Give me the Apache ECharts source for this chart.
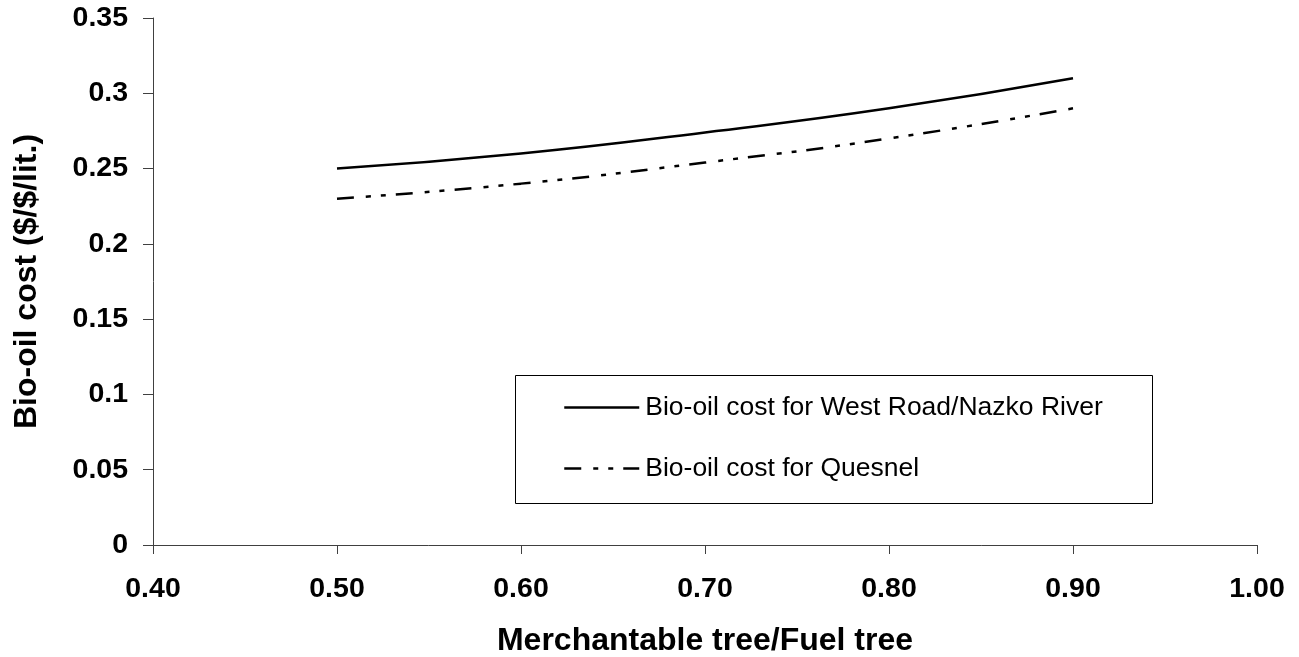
<!DOCTYPE html>
<html>
<head>
<meta charset="utf-8">
<script src="https://cdn.jsdelivr.net/npm/echarts@6/dist/echarts.min.js"></script>
<style>html,body{margin:0;padding:0;background:#fff;}#c{width:1299px;height:657px;}</style>
</head>
<body>
<div id="c"></div>
<script>
const ratio = [0.5, 0.6, 0.7, 0.8, 0.9];
const westRoad = [0.25, 0.26, 0.274, 0.29, 0.31];
const quesnel = [0.23, 0.24, 0.254, 0.27, 0.29];
const seriesNames = ['Bio-oil cost for West Road/Nazko River', 'Bio-oil cost for Quesnel'];
const xTitle = 'Merchantable tree/Fuel tree';
const yTitle = 'Bio-oil cost ($/$/lit.)';

const FONT = '"Liberation Sans", Arial, sans-serif';
const chart = echarts.init(document.getElementById('c'));
chart.setOption({
  backgroundColor: '#fff',
  animation: false,
  grid: { left: 153, right: 42, top: 18, bottom: 112, containLabel: false, outerBoundsMode: 'none' },
  xAxis: {
    type: 'value', min: 0.4, max: 1.0, interval: 0.1,
    name: xTitle, nameLocation: 'middle', nameGap: 80,
    nameTextStyle: { fontFamily: FONT, fontWeight: 'bold', fontSize: 32, color: '#000' },
    axisLine: { show: true, lineStyle: { color: '#404040', width: 1 } },
    axisTick: { show: true, inside: false, length: 9, lineStyle: { color: '#404040' } },
    axisLabel: { margin: 30, fontFamily: FONT, fontWeight: 'bold', fontSize: 28.5, color: '#000',
      formatter: v => v.toFixed(2) },
    splitLine: { show: false }
  },
  yAxis: {
    type: 'value', min: 0, max: 0.35, interval: 0.05,
    name: yTitle, nameLocation: 'middle', nameGap: 110,
    nameTextStyle: { fontFamily: FONT, fontWeight: 'bold', fontSize: 32, color: '#000' },
    axisLine: { show: true, lineStyle: { color: '#404040', width: 1 } },
    axisTick: { show: true, inside: false, length: 10, lineStyle: { color: '#404040' } },
    axisLabel: { margin: 25, fontFamily: FONT, fontWeight: 'bold', fontSize: 28.5, color: '#000',
      formatter: v => String(Math.round(v * 100) / 100) },
    splitLine: { show: false }
  },
  legend: {
    orient: 'vertical', left: 513, top: 373,
    padding: [21, 20, 21, 50],
    itemWidth: 75, itemHeight: 26, itemGap: 34,
    itemStyle: { color: 'rgba(0,0,0,0)', borderWidth: 0, opacity: 0 },
    lineStyle: { width: 2.5 },
    textStyle: { fontFamily: FONT, fontSize: 26.5, color: '#000', lineHeight: 26, padding: [0,0,0,1] },
    data: seriesNames
  },
  graphic: [{
    type: 'rect', left: 513, top: 373, z: 100, silent: true,
    shape: { width: 637, height: 128 },
    style: { fill: 'none', stroke: '#000', lineWidth: 1 }
  }],
  series: [
    { name: seriesNames[0], type: 'line', smooth: true, symbol: 'none',
      data: ratio.map((x, i) => [x, westRoad[i]]),
      lineStyle: { color: '#000', width: 2.5, type: 'solid' }, itemStyle: { color: '#000' } },
    { name: seriesNames[1], type: 'line', smooth: true, symbol: 'none',
      data: ratio.map((x, i) => [x, quesnel[i]]),
      lineStyle: { color: '#000', width: 2.5, type: [17, 12, 5, 10, 5, 10] }, itemStyle: { color: '#000' } }
  ]
});
</script>
</body>
</html>
